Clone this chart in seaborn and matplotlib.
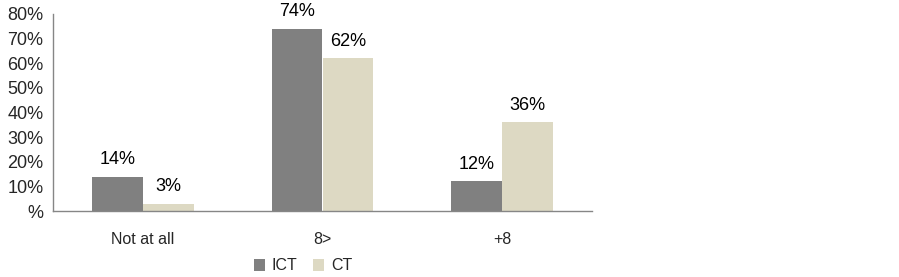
import matplotlib
matplotlib.use("Agg")
import matplotlib.pyplot as plt
import seaborn as sns
import pandas as pd
from matplotlib.ticker import FixedLocator

categories = ["Not at all", "8>", "+8"]
series_names = ["ICT", "CT"]
ict_values = [14, 74, 12]
ct_values = [3, 62, 36]
y_ticks = [0, 10, 20, 30, 40, 50, 60, 70, 80]
y_tick_labels = ["%", "10%", "20%", "30%", "40%", "50%", "60%", "70%", "80%"]

df = pd.DataFrame({
    "category": categories * 2,
    "series": [series_names[0]] * 3 + [series_names[1]] * 3,
    "value": ict_values + ct_values,
})

sns.set_style("white")
plt.rcParams["font.family"] = ["Liberation Sans", "DejaVu Sans"]

fig = plt.figure(figsize=(8.99, 2.77), dpi=100)
ax = fig.add_axes([53 / 899, 1 - 211 / 277, (592 - 53) / 899, (211 - 14) / 277])

palette = {"ICT": "#808080", "CT": "#DDD9C3"}
sns.barplot(data=df, x="category", y="value", hue="series", order=categories,
            hue_order=series_names, palette=palette, width=0.567, gap=0,
            saturation=1, ax=ax, legend=True, edgecolor="none", linewidth=0)

for cont in ax.containers:
    labels = [f"{int(round(v))}%" for v in cont.datavalues]
    ax.bar_label(cont, labels=labels, padding=6, fontsize=13, color="#000000")

ax.set_xlim(-0.5, 2.5)
ax.set_ylim(0, 80)
ax.set_yticks(y_ticks)
ax.set_yticklabels(y_tick_labels, fontsize=13)
ax.set_xlabel("")
ax.set_ylabel("")

for lbl in ax.get_xticklabels():
    lbl.set_fontsize(11.5)
ax.tick_params(axis="x", which="major", length=0, pad=15)
ax.xaxis.set_minor_locator(FixedLocator([0.5, 1.5, 2.5]))
ax.tick_params(axis="x", which="minor", length=5, color="#868686", direction="out", width=1)
ax.tick_params(axis="y", which="major", length=4, color="#868686", direction="out", width=1, pad=3)

for side in ["top", "right"]:
    ax.spines[side].set_visible(False)
for side in ["left", "bottom"]:
    ax.spines[side].set_color("#868686")
    ax.spines[side].set_linewidth(1)

leg = ax.get_legend()
if leg is not None:
    leg.remove()
handles, labels = ax.get_legend_handles_labels()
fig.legend(handles, labels, loc="center", bbox_to_anchor=(303 / 899, 1 - 266 / 277),
           ncol=2, frameon=False, fontsize=11.5, handlelength=0.7, handleheight=0.7,
           handletextpad=0.4, columnspacing=1.0)

fig.savefig("out.png", dpi=100)
